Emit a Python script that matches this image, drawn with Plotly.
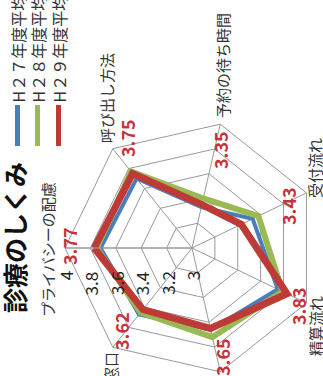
import plotly.graph_objects as go

categories = ["プライバシーの配慮", "呼び出し方法", "予約の待ち時間", "受付流れ", "精算流れ", "診察流れ", "会計窓口"]
h27 = [3.72, 3.70, 3.33, 3.53, 3.75, 3.66, 3.67]
h28 = [3.75, 3.77, 3.40, 3.58, 3.79, 3.72, 3.65]
h29 = [3.77, 3.75, 3.35, 3.43, 3.83, 3.65, 3.62]
series_names = ["H２７年度平均", "H２８年度平均", "H２９年度平均"]
series_values = [h27, h28, h29]
colors = ["#4A7EBB", "#98B954", "#BE3A36"]
line_widths = [4, 6, 7]
radial_ticks = [3, 3.2, 3.4, 3.6, 3.8, 4]
radial_range = [3, 4]
title_text = "診療のしくみ"

W, H = 323, 376
FONT = "Noto Sans CJK JP"

fig = go.Figure()
for name, vals, col, lw in zip(series_names, series_values, colors, line_widths):
    fig.add_trace(go.Scatterpolar(
        r=vals + vals[:1], theta=categories + categories[:1],
        mode="lines", name=name, line=dict(color=col, width=lw),
        showlegend=False))

cx, cy, R = 192, 248, 127
fig.update_layout(
    width=W, height=H, margin=dict(l=0, r=0, t=0, b=0),
    paper_bgcolor="white", plot_bgcolor="white",
    font=dict(family=FONT, color="#222"),
    polar=dict(
        domain=dict(x=[(cx - R) / W, (cx + R) / W], y=[(H - cy - R) / H, (H - cy + R) / H]),
        bgcolor="white",
        gridshape="linear",
        radialaxis=dict(range=radial_range, tickvals=radial_ticks, showticklabels=False,
                        angle=180, showline=True, linecolor="#999", linewidth=1,
                        gridcolor="#999", gridwidth=1, ticks=""),
        angularaxis=dict(rotation=180, direction="clockwise", showticklabels=False,
                         ticks="", linecolor="#999", linewidth=1,
                         gridcolor="#999", gridwidth=1),
    ),
)

ann = []
# radial tick labels (rotated, below the radial axis which points left)
for t in radial_ticks:
    txt = f"{t:g}"
    frac = (t - radial_range[0]) / (radial_range[1] - radial_range[0])
    px = cx - frac * R
    py = 270 + 4.3 * len(txt.replace(".", "")) * 1.0 + (2.5 if "." in txt else 0) + 2
    ann.append(dict(text=txt, x=px / W, y=1 - py / H, textangle=-90,
                    font=dict(size=17, color="#222", family=FONT)))
# title
ann.append(dict(text=f"<b>{title_text}</b>", x=14 / W, y=1 - 238 / H, textangle=-90,
                font=dict(size=25, color="#111", family=FONT)))
# legend
leg_x = [17.5, 37.5, 58.5]
shapes = []
for name, col, lx in zip(series_names, colors, leg_x):
    shapes.append(dict(type="line", xref="paper", yref="paper", x0=lx / W, x1=lx / W,
                       y0=1 - 105 / H, y1=1 - 146 / H, line=dict(color=col, width=5)))
    ann.append(dict(text=name, x=lx / W, y=1 - 49 / H, textangle=-90,
                    font=dict(size=16, color="#333", family=FONT)))
# category labels
cat_pos = [(47, 249), (106, 98), (223, 66), (314, 168), (315, 326), (245, 420), (110, 382)]
for c, (px, py) in zip(categories, cat_pos):
    ann.append(dict(text=c, x=px / W, y=1 - py / H, textangle=-90,
                    font=dict(size=15, color="#333", family=FONT)))
# value labels
val_pos = [(69, 246), (127, 138), (220, 150), (288, 206), (298, 306), (222, 357), (121, 331)]
for v, (px, py) in zip(h29, val_pos):
    ann.append(dict(text=f"<b>{v:.2f}</b>", x=px / W, y=1 - py / H, textangle=-90,
                    font=dict(size=18, color="#C8323A", family=FONT)))
for a in ann:
    a.update(xref="paper", yref="paper", showarrow=False, xanchor="center", yanchor="middle")
fig.update_layout(annotations=ann, shapes=shapes)

fig.write_html("out.html")
